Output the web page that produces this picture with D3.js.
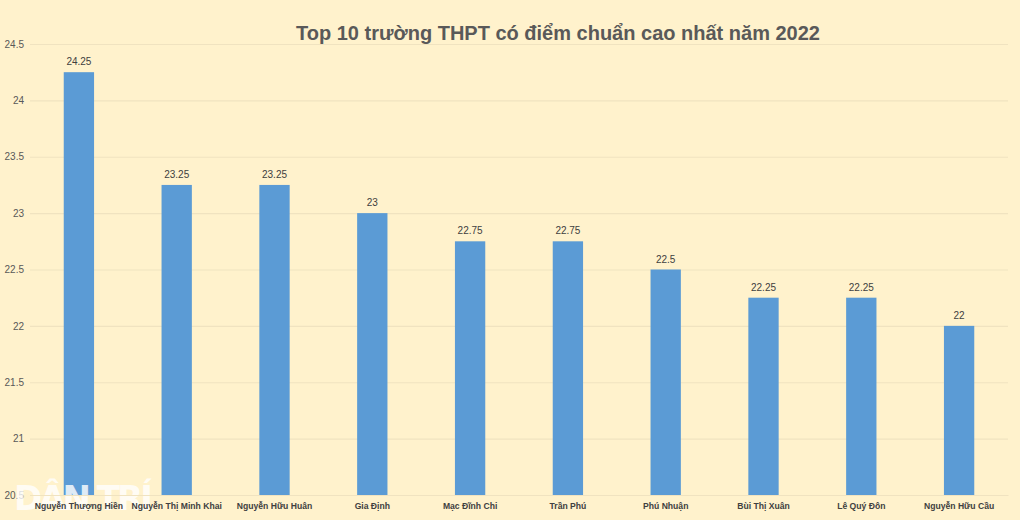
<!DOCTYPE html>
<html><head><meta charset="utf-8">
<script src="https://cdn.jsdelivr.net/npm/d3@7/dist/d3.min.js"></script>
<style>
html,body{margin:0;padding:0;background:#fff2cc;}
svg{display:block;}
</style></head>
<body>
<svg id="c" width="1020" height="520"></svg>
<script>
const categories = ["Nguyễn Thượng Hiền","Nguyễn Thị Minh Khai","Nguyễn Hữu Huân","Gia Định","Mạc Đĩnh Chi","Trần Phú","Phú Nhuận","Bùi Thị Xuân","Lê Quý Đôn","Nguyễn Hữu Cầu"];
const values = [24.25,23.25,23.25,23,22.75,22.75,22.5,22.25,22.25,22];
const yTicks = [20.5,21,21.5,22,22.5,23,23.5,24,24.5];
const title = "Top 10 trường THPT có điểm chuẩn cao nhất năm 2022";

const svg = d3.select("#c");
const W = 1020, H = 520;
const m = {left:30, right:12, top:44, bottom:25};
svg.append("rect").attr("width",W).attr("height",H).attr("fill","#fff2cc");

const x = d3.scaleBand().domain(categories).range([m.left, W - m.right]).paddingInner(0.69).paddingOuter(0.345);
const y = d3.scaleLinear().domain([20.5,24.5]).range([H - m.bottom, m.top]);

const ya = svg.append("g").attr("transform",`translate(${m.left},0)`)
  .call(d3.axisLeft(y).tickValues(yTicks).tickSize(-(W - m.left - m.right)).tickPadding(6).tickFormat(d3.format("")));
ya.select(".domain").remove();
ya.selectAll(".tick line").attr("stroke","#f0e3c0").attr("stroke-width",1.2);
ya.selectAll(".tick text").attr("fill","#595959").style("font-family","Liberation Sans, Arial, sans-serif").style("font-size","10px");

svg.append("g").selectAll("rect.bar").data(values).join("rect")
  .attr("class","bar")
  .attr("x",(d,i)=>x(categories[i]))
  .attr("width",x.bandwidth())
  .attr("y",d=>y(d))
  .attr("height",d=>y(20.5)-y(d))
  .attr("fill","#5b9bd5");

svg.append("g").selectAll("text.v").data(values).join("text")
  .attr("x",(d,i)=>x(categories[i])+x.bandwidth()/2)
  .attr("y",d=>y(d)-7)
  .attr("text-anchor","middle")
  .attr("fill","#404040")
  .style("font-family","Liberation Sans, Arial, sans-serif").style("font-size","10px")
  .text(d=>d);

// watermark (drawn beneath axis labels)
svg.append("text").attr("x",14).attr("y",510)
  .attr("fill","#ffffff").attr("opacity",0.8)
  .style("font-family","DejaVu Sans, sans-serif").style("font-size","34px").style("font-weight","bold")
  .style("letter-spacing","-3px")
  .text("DÂN TRÍ");

const xa = svg.append("g").attr("transform",`translate(0,${H - m.bottom})`)
  .call(d3.axisBottom(x).tickSize(0).tickPadding(8));
xa.select(".domain").attr("stroke","#f0e3c0");
xa.selectAll(".tick text").attr("fill","#404040").style("font-family","Liberation Sans, Arial, sans-serif").style("font-size","8.6px").style("font-weight","bold");

svg.append("text").attr("x",558).attr("y",40).attr("text-anchor","middle")
  .attr("fill","#595959").style("font-family","Liberation Sans, Arial, sans-serif")
  .style("font-size","20px").style("font-weight","bold").text(title);
</script>
</body></html>
